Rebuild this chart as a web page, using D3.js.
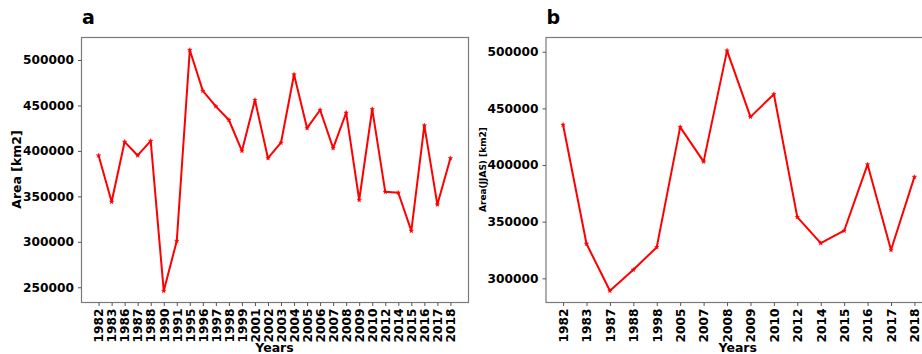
<!DOCTYPE html>
<html>
<head>
<meta charset="utf-8">
<script src="https://cdn.jsdelivr.net/npm/d3@7/dist/d3.min.js"></script>
<style>
  html, body { margin: 0; padding: 0; background: #fff; }
  svg { display: block; }
  text { font-family: "DejaVu Sans", sans-serif; font-weight: bold; fill: #000; }
</style>
</head>
<body>
<svg id="chart" width="922" height="354"></svg>
<script>
// Annual area, all years
const yearsA = ["1982","1983","1986","1987","1988","1990","1991","1995","1996","1997",
  "1998","1999","2001","2002","2003","2004","2005","2006","2007","2008",
  "2009","2010","2012","2014","2015","2016","2017","2018"];
const areaA = [395000,344000,410000,395000,411000,246000,301000,511000,466000,449000,
  434000,400000,456000,392000,409000,484000,425000,445000,403000,442000,
  346000,446000,355000,354000,312000,428000,341000,392000];
const ticksA = [250000,300000,350000,400000,450000,500000];

// JJAS area
const yearsB = ["1982","1983","1987","1988","1998","2005","2007","2008","2009","2010",
  "2012","2014","2015","2016","2017","2018"];
const areaB = [435500,330500,289000,307500,327500,433500,403000,501000,442500,462500,
  354000,331000,342000,400500,325000,389500];
const ticksB = [300000,350000,400000,450000,500000];

const svg = d3.select("#chart");

function panel(opts) {
  const { left, right, top, bottom, cats, vals, yDomain, yTicks, title, ylabel, ylabelSize, ylabelX } = opts;
  const g = svg.append("g");
  const n = cats.length;
  const pad = (n - 1) * 0.05;
  const x = d3.scaleLinear().domain([-pad, n - 1 + pad]).range([left, right]);
  const y = d3.scaleLinear().domain(yDomain).range([bottom, top]);

  // frame
  g.append("rect")
    .attr("x", left + 0.5).attr("y", top + 0.5)
    .attr("width", right - left).attr("height", bottom - top)
    .attr("fill", "none").attr("stroke", "#7a7a7a").attr("stroke-width", 1.2);

  // y axis
  const ya = g.append("g").attr("transform", `translate(${left + 0.5},0)`)
    .call(d3.axisLeft(y).tickValues(yTicks).tickFormat(d3.format("d")).tickSize(3.5).tickPadding(4));
  ya.select(".domain").remove();
  ya.selectAll("line").attr("stroke", "#555");
  ya.selectAll("text").attr("font-size", 12.2).attr("font-weight", "bold")
    .attr("font-family", "DejaVu Sans, sans-serif");

  // x axis
  const xa = g.append("g").attr("transform", `translate(0,${bottom + 0.5})`)
    .call(d3.axisBottom(x).tickValues(d3.range(n)).tickFormat(i => cats[i]).tickSize(3.5).tickPadding(3));
  xa.select(".domain").remove();
  xa.selectAll("line").attr("stroke", "#555");
  xa.selectAll("text")
    .attr("font-size", 12.2).attr("font-weight", "bold")
    .attr("font-family", "DejaVu Sans, sans-serif")
    .attr("transform", "rotate(-90)")
    .attr("text-anchor", "end")
    .attr("x", -6).attr("y", 0).attr("dy", "0.35em");

  // line
  const line = d3.line().x((d, i) => x(i)).y(d => y(d));
  g.append("path").datum(vals)
    .attr("fill", "none").attr("stroke", "#ff0000").attr("stroke-width", 2)
    .attr("stroke-linejoin", "round").attr("d", line);

  // small star markers at each point
  const star = d3.symbol().type(d3.symbolStar).size(6);
  g.selectAll(".mk").data(vals).join("path")
    .attr("class", "mk")
    .attr("transform", (d, i) => `translate(${x(i)},${y(d)})`)
    .attr("d", star).attr("fill", "#ff0000").attr("stroke", "#ff0000").attr("stroke-width", 0.5);

  // titles and labels
  g.append("text").attr("x", left + 1).attr("y", 24)
    .attr("font-size", 19).text(title);
  g.append("text").attr("x", (left + Math.min(right, 922)) / 2 + (opts.xlabelShift || 0)).attr("y", 352)
    .attr("text-anchor", "middle").attr("font-size", 12.5).text("Years");
  g.append("text")
    .attr("transform", `translate(${ylabelX},${(top + bottom) / 2}) rotate(-90)`)
    .attr("text-anchor", "middle").attr("font-size", ylabelSize).text(ylabel);
}

panel({ left: 81, right: 468, top: 37, bottom: 302, cats: yearsA, vals: areaA,
  yDomain: [233800, 525300], yTicks: ticksA, title: "a",
  ylabel: "Area [km2]", ylabelSize: 12.5, ylabelX: 21 });

panel({ left: 545.5, right: 932, top: 37, bottom: 302, cats: yearsB, vals: areaB,
  yDomain: [279100, 513000], yTicks: ticksB, title: "b",
  ylabel: "Area(JJAS) [km2]", ylabelSize: 9, ylabelX: 486, xlabelShift: 4 });
</script>
</body>
</html>
